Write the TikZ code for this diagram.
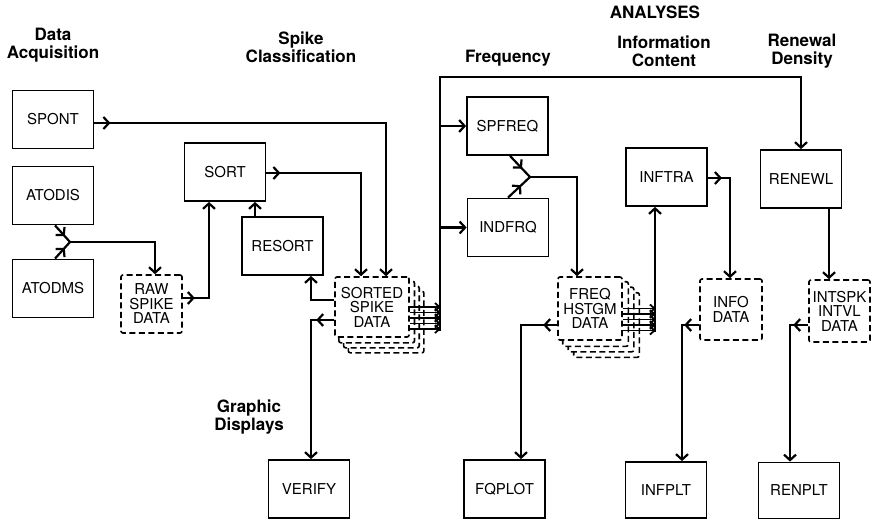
\documentclass[tikz,border=0pt]{standalone}
\usepackage{fontspec}
\setmainfont{TeX Gyre Heros}
\usetikzlibrary{arrows.meta,decorations.markings,backgrounds}

\tikzset{
  prog/.style={draw, line width=1.8pt, minimum width=81pt, minimum height=58pt, inner sep=0pt, fill=white, font=\fontsize{15}{15}\selectfont},
  data/.style={draw, dash pattern=on 6pt off 3.5pt, line width=1.6pt, rounded corners=2pt, inner sep=0pt, fill=white, align=center, font=\fontsize{15}{14.5}\selectfont},
  head/.style={align=center, font=\fontsize{17}{18}\selectfont\bfseries},
  wire/.style={line width=2.2pt},
  flow/.style={wire, -{Straight Barb[length=5.5pt,width=12pt]}},
  tipat/.style={postaction={decorate}, decoration={markings, mark=at position #1 with {\arrow{Straight Barb[length=5.5pt,width=12pt]}}}},
}

\begin{document}
\begin{tikzpicture}[x=1pt,y=-1pt]
\useasboundingbox (0,0) rectangle (873,520);

% headings
\node[head] (tacq) at (53,45) {Data\\Acquisition};
\node[head] (tspk) at (301,47) {Spike\\Classification};
\node[head] (tana) at (655,12) {ANALYSES};
\node[head] (tfrq) at (508,58) {Frequency};
\node[head] (tinf) at (664,51) {Information\\Content};
\node[head] (tren) at (802,51) {Renewal\\Density};
\node[head] (tgra) at (249,417) {Graphic\\Displays};

% programs
\node[prog] (spont)  at (53,119.5) {SPONT};
\node[prog] (atodis) at (53,195.5) {ATODIS};
\node[prog] (atodms) at (53,288.5) {ATODMS};
\node[prog] (sort)   at (225,172)  {SORT};
\node[prog] (resort) at (282.5,246) {RESORT};
\node[prog] (spfreq) at (507.5,126) {SPFREQ};
\node[prog] (indfrq) at (508,227.5) {INDFRQ};
\node[prog] (inftra) at (666.5,177) {INFTRA};
\node[prog] (renewl) at (801,179) {RENEWL};
\node[prog] (verify) at (309,489) {VERIFY};
\node[prog] (fqplot) at (504.5,489) {FQPLOT};
\node[prog, minimum height=56pt] (infplt) at (666,490) {INFPLT};
\node[prog, minimum height=56pt] (renplt) at (799,490.5) {RENPLT};

% data files
\node[data, minimum width=61pt, minimum height=58pt] (raw) at (151.5,304) {RAW\\SPIKE\\DATA};
\node[data, minimum width=74pt, minimum height=60pt] (sorted) at (372,307) {SORTED\\SPIKE\\DATA};
\node[data, minimum width=64pt, minimum height=63pt] (freq) at (590,308.5) {FREQ\\HSTGM\\DATA};
\node[data, minimum width=62pt, minimum height=61pt] (info) at (731,309.5) {INFO\\DATA};
\node[data, minimum width=61pt, minimum height=62pt] (intspk) at (839.5,311) {INTSPK\\INTVL\\DATA};

% stacked copies behind the multi-file data
\begin{pgfonlayer}{background}
  \foreach \k in {3,2,1} {
    \draw[data] ([shift={(4.7*\k,5*\k)}]sorted.south west) rectangle ([shift={(4.7*\k,5*\k)}]sorted.north east);
    \draw[data] ([shift={(5.5*\k,5.5*\k)}]freq.south west) rectangle ([shift={(5.5*\k,5.5*\k)}]freq.north east);
  }
\end{pgfonlayer}

% corners
\coordinate (am) at (70,242);
\coordinate (ac) at (155,242);
\coordinate (rc) at (209,298);
\coordinate (rs) at (255,217);
\coordinate (p1) at (386,123);
\coordinate (p2) at (361,173);
\coordinate (q1) at (311,300);
\coordinate (q2) at (311,320);
\coordinate (sbot) at (440,331);
\coordinate (stop) at (440,77);
\coordinate (fm) at (530,177);
\coordinate (fc) at (577,177);
\coordinate (fbot) at (655,332);
\coordinate (p3) at (730,178);
\coordinate (p4) at (829,0);
\coordinate (p5) at (521,325);
\coordinate (p6) at (682,325);
\coordinate (p7) at (790,325);

% acquisition
\draw[wire, tipat=0.65] ([xshift=2pt]atodis.south) -- (am);
\draw[wire, tipat=0.65] ([xshift=2pt]atodms.north) -- (am);
\draw[flow] (am) -- (ac) -- (ac |- raw.north);
\draw[flow, tipat=12pt] (raw.east |- rc) -- (rc) -- (rc |- sort.south);
\draw[flow, tipat=16pt] (spont.east |- p1) -- (p1) -- (p1 |- sorted.north);

% classification
\draw[flow] (rs) -- (rs |- sort.south);
\draw[flow, tipat=14pt] (sort.east |- p2) -- (p2) -- (p2 |- sorted.north);
\draw[flow] (sorted.west |- q1) -- (q1) -- (q1 |- resort.south);
\draw[flow, tipat=18pt] (sorted.west |- q2) -- (q2) -- (q2 |- verify.north);

% sorted data bus
\foreach \d in {0,5.5,11,16.5,22}
  \draw[wire, line width=1.8pt, -{Straight Barb[length=4.5pt,width=8pt]}] ([yshift=-\d pt]sorted.east) -- ++(31,0);
\draw[flow] (sbot) -- (stop) -- (stop -| renewl.north) -- (renewl.north);
\draw[flow] (sbot |- spfreq.west) -- (spfreq.west);
\draw[flow] (sbot |- indfrq.west) -- (indfrq.west);

% frequency
\draw[wire, tipat=0.6] ([xshift=2.5pt]spfreq.south) -- (fm);
\draw[wire, tipat=0.6] (indfrq.north) -- (fm);
\draw[flow] (fm) -- (fc) -- (fc |- freq.north);
\foreach \d in {0,5.5,11,16.5,22}
  \draw[wire, line width=1.8pt, -{Straight Barb[length=4.5pt,width=8pt]}] ([yshift=-\d pt]freq.east) -- ++(33,0);
\draw[flow] (fbot) -- (fbot |- inftra.south);
\draw[flow, tipat=14pt] (freq.west |- p5) -- (p5) -- (p5 |- fqplot.north);

% information and renewal
\draw[flow, tipat=14pt] (inftra.east |- p3) -- (p3) -- (p3 |- info.north);
\draw[flow] (renewl.south -| p4) -- (p4 |- intspk.north);
\draw[flow, tipat=15pt] (info.west |- p6) -- (p6) -- (p6 |- infplt.north);
\draw[flow, tipat=15pt] (intspk.west |- p7) -- (p7) -- (p7 |- renplt.north);
\end{tikzpicture}
\end{document}
